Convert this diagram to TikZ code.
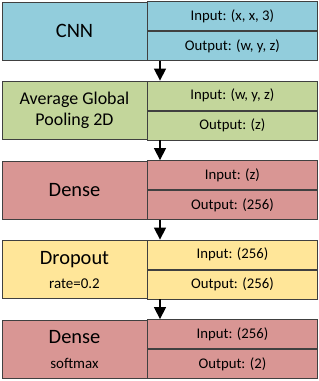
\documentclass[tikz,border=0pt]{standalone}
\usepackage{fontspec}
\setmainfont{Carlito}
\usepackage{tikz}
\usetikzlibrary{arrows.meta,positioning}
\definecolor{cnnblue}{HTML}{92CDDC}
\definecolor{poolgreen}{HTML}{C3D69B}
\definecolor{densered}{HTML}{D99694}
\definecolor{dropyellow}{HTML}{FFE699}
\definecolor{edge}{HTML}{404040}

\begin{document}
\begin{tikzpicture}[x=1bp,y=-1bp,>={Triangle[width=12bp,length=12bp]},
  layer/.style={draw=edge,line width=0.9bp,minimum width=145bp,minimum height=58bp,
    inner sep=0pt,align=center,font=\fontsize{20.5}{23}\selectfont},
  title/.style={font=\fontsize{20.5}{23}\selectfont},
  port/.style={draw=edge,line width=0.9bp,minimum width=170bp,minimum height=29bp,
    inner sep=0pt,font=\fontsize{14.8}{17}\selectfont},
  sub/.style={font=\fontsize{15}{17}\selectfont},
  flow/.style={->,line width=1.3bp,black}]
\useasboundingbox (0,0) rectangle (319,381);

% CNN
\node[layer,fill=cnnblue] (cnn) at (74.5,31) {CNN};
\node[port,fill=cnnblue,anchor=south west] (cnnin) at (147,31) {Input: (x, x, 3)};
\node[port,fill=cnnblue,anchor=north west] (cnnout) at (147,31) {Output: (w, y, z)};

% average pooling
\node[layer,fill=poolgreen,font=\fontsize{18}{21}\selectfont] (pool) at (74.5,110.5) {Average Global\\Pooling 2D};
\node[port,fill=poolgreen,anchor=south west] (poolin) at (147,110.5) {Input: (w, y, z)};
\node[port,fill=poolgreen,anchor=north west] (poolout) at (147,110.5) {Output: (z)};

% dense
\node[layer,fill=densered] (dense) at (74.5,190) {Dense};
\node[port,fill=densered,anchor=south west] (densein) at (147,190) {Input: (z)};
\node[port,fill=densered,anchor=north west] (denseout) at (147,190) {Output: (256)};

% dropout
\node[layer,fill=dropyellow] (drop) at (74.5,269.5) {};
\node[title,anchor=base] (droplbl) at (74.5,264) {Dropout};
\node[sub,anchor=base] (droprate) at (74.5,288.5) {rate=0.2};
\node[port,fill=dropyellow,anchor=south west] (dropin) at (147,269.5) {Input: (256)};
\node[port,fill=dropyellow,anchor=north west] (dropout) at (147,269.5) {Output: (256)};

% output dense
\node[layer,fill=densered] (final) at (74.5,349) {};
\node[title,anchor=base] (finallbl) at (74.5,343.5) {Dense};
\node[sub,anchor=base] (finalact) at (74.5,368) {softmax};
\node[port,fill=densered,anchor=south west] (finalin) at (147,349) {Input: (256)};
\node[port,fill=densered,anchor=north west] (finalout) at (147,349) {Output: (2)};

\draw[flow] ([xshift=13bp]cnnout.south west) -- ([xshift=13bp]poolin.north west);
\draw[flow] ([xshift=13bp]poolout.south west) -- ([xshift=13bp]densein.north west);
\draw[flow] ([xshift=13bp]denseout.south west) -- ([xshift=13bp]dropin.north west);
\draw[flow] ([xshift=13bp]dropout.south west) -- ([xshift=13bp]finalin.north west);
\end{tikzpicture}
\end{document}
